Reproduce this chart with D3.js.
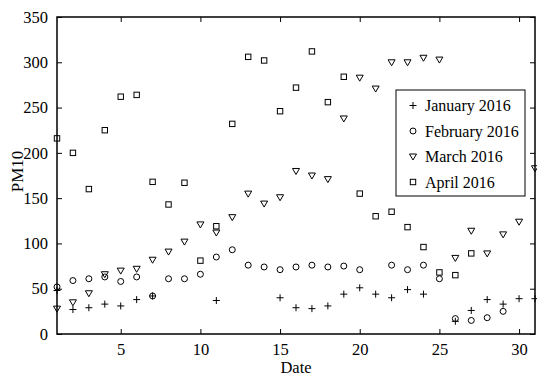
<!DOCTYPE html>
<html>
<head>
<meta charset="utf-8">
<script src="https://cdn.jsdelivr.net/npm/d3@7"></script>
<style>
body{margin:0;background:#fff;}
svg{display:block;font-family:"Liberation Serif","Times New Roman",serif;}
</style>
</head>
<body>
<svg id="chart" width="537" height="376"></svg>
<script>
const days = d3.range(1, 32);
const seriesNames = ["January 2016", "February 2016", "March 2016", "April 2016"];
const january = [48,27,29,33,31,38,42,null,null,null,37,null,null,null,40,29,28,31,44,51,44,40,49,44,null,14,26,38,33,39,39];
const february = [52,59,61,63,58,63,42,61,61,66,85,93,76,74,71,74,76,74,75,71,null,76,71,76,61,17,15,18,25,null,null];
const march = [28,35,45,66,70,72,82,91,102,121,112,129,155,144,151,180,175,171,238,283,271,300,300,305,303,84,114,89,110,124,183];
const april = [216,200,160,225,262,264,168,143,167,81,119,232,306,302,246,272,312,256,284,155,130,135,118,96,68,65,89,null,null,null,null];
const xTicks = [5,10,15,20,25,30];
const yTicks = [0,50,100,150,200,250,300,350];

const svg = d3.select("#chart");
const m = {l:57, r:535, t:17, b:334};
const x = d3.scaleLinear().domain([1,31]).range([m.l, m.r]);
const y = d3.scaleLinear().domain([0,350]).range([m.b, m.t]);

const fs = "16.5px";
// axes
const gx = svg.append("g").attr("transform",`translate(0,${m.b})`)
  .call(d3.axisBottom(x).tickValues(xTicks).tickSizeInner(-5).tickSizeOuter(0).tickPadding(9));
const gxt = svg.append("g").attr("transform",`translate(0,${m.t})`)
  .call(d3.axisTop(x).tickValues(xTicks).tickSizeInner(-5).tickSizeOuter(0).tickFormat(""));
const gy = svg.append("g").attr("transform",`translate(${m.l},0)`)
  .call(d3.axisLeft(y).tickValues(yTicks).tickSizeInner(-5).tickSizeOuter(0).tickPadding(9));
const gyr = svg.append("g").attr("transform",`translate(${m.r},0)`)
  .call(d3.axisRight(y).tickValues(yTicks).tickSizeInner(-5).tickSizeOuter(0).tickFormat(""));
[gx,gxt,gy,gyr].forEach(g=>{
  g.select(".domain").remove();
  g.selectAll(".tick line").attr("stroke","#000").attr("stroke-width",1);
  g.selectAll("text").attr("font-size",fs).attr("fill","#000").attr("font-family","Liberation Serif, serif");
});
svg.append("rect").attr("x",m.l).attr("y",m.t).attr("width",m.r-m.l).attr("height",m.b-m.t)
  .attr("fill","none").attr("stroke","#000").attr("stroke-width",1.5);

// labels
svg.append("text").attr("x",(m.l+m.r)/2).attr("y",373).attr("text-anchor","middle")
  .attr("font-size","16.5px").text("Date");
svg.append("text").attr("transform",`translate(23,${(m.t+m.b)/2 - 4}) rotate(-90)`).attr("text-anchor","middle")
  .attr("font-size","17px").text("PM10");

// markers
const symPlus = (g,cx,cy)=>g.append("path").attr("d",`M${cx-3.5},${cy}H${cx+3.5}M${cx},${cy-3.5}V${cy+3.5}`).attr("stroke","#000").attr("fill","none");
const symCircle = (g,cx,cy)=>g.append("circle").attr("cx",cx).attr("cy",cy).attr("r",3).attr("stroke","#000").attr("fill","none");
const symTri = (g,cx,cy)=>g.append("path").attr("d",`M${cx-3.5},${cy-2.5}H${cx+3.5}L${cx},${cy+3.5}Z`).attr("stroke","#000").attr("fill","none");
const symSq = (g,cx,cy)=>g.append("rect").attr("x",cx-2.7).attr("y",cy-2.7).attr("width",5.4).attr("height",5.4).attr("stroke","#000").attr("fill","none");
const syms = [symPlus, symCircle, symTri, symSq];
const allSeries = [january, february, march, april];

const pg = svg.append("g");
allSeries.forEach((s,i)=>{
  s.forEach((v,j)=>{
    if (v==null) return;
    syms[i](pg, x(days[j]), y(v));
  });
});

// legend
const lg = svg.append("g");
lg.append("rect").attr("x",396).attr("y",90).attr("width",129).attr("height",106)
  .attr("fill","#fff").attr("stroke","#000").attr("stroke-width",1);
seriesNames.forEach((n,i)=>{
  const cy = 105.5 + i*25.5;
  syms[i](lg, 413, cy);
  lg.append("text").attr("x",425).attr("y",cy+5.5).attr("font-size","16px").text(n);
});
</script>
</body>
</html>
